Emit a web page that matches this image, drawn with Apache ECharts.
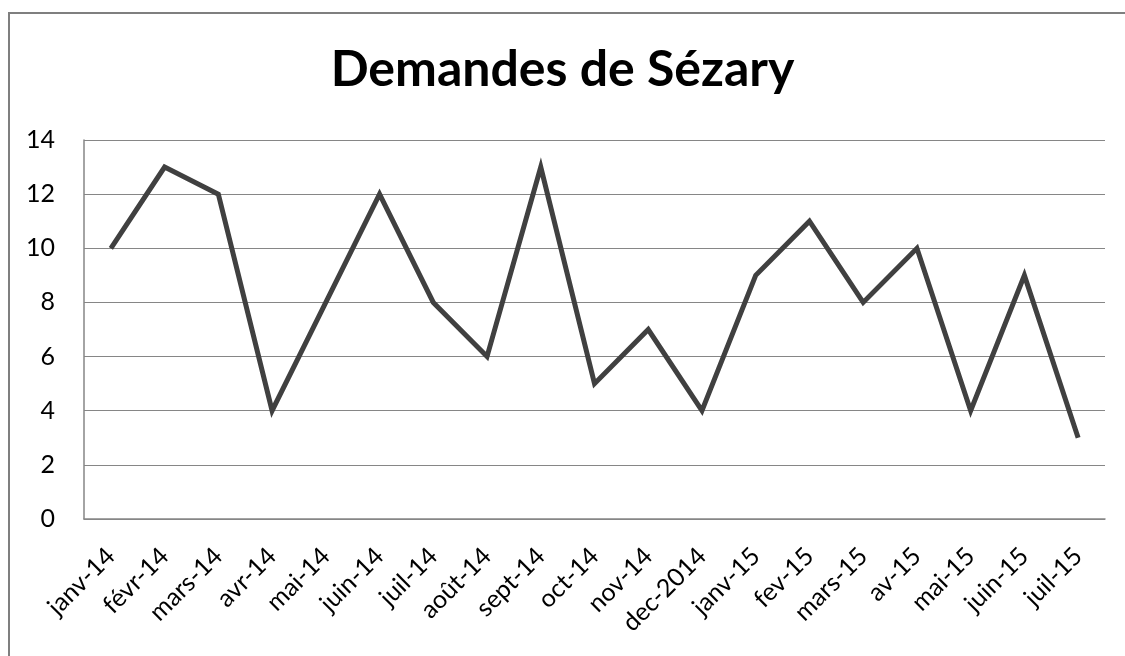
<!DOCTYPE html>
<html>
<head>
<meta charset="utf-8">
<script src="https://cdn.jsdelivr.net/npm/echarts@6/dist/echarts.min.js"></script>
<style>html,body{margin:0;padding:0;background:#fff;}#c{width:1125px;height:656px;}</style>
</head>
<body>
<div id="c"></div>
<script>
const titleText = 'Demandes de Sézary';
const categories = ['janv-14','févr-14','mars-14','avr-14','mai-14','juin-14','juil-14','août-14','sept-14','oct-14','nov-14','dec-2014','janv-15','fev-15','mars-15','av-15','mai-15','juin-15','juil-15'];
const demandes = [10,13,12,4,8,12,8,6,13,5,7,4,9,11,8,10,4,9,3];
const yTicks = [0,2,4,6,8,10,12,14];

const chart = echarts.init(document.getElementById('c'), null, {renderer:'canvas'});
chart.setOption({
  animation: false,
  backgroundColor: '#fff',
  title: {
    text: titleText, left: 'center', top: 40,
    textStyle: {fontFamily: 'Lato', fontWeight: 'bold', fontSize: 50, color: '#000'}
  },
  graphic: [{
    type: 'polyline', silent: true,
    shape: {points: [[9, 700], [9, 13], [1200, 13]]},
    style: {stroke: '#7f7f7f', lineWidth: 2, fill: null}
  }],
  grid: {left: 84, right: 20, top: 140, bottom: 137, containLabel: false},
  xAxis: {
    type: 'category', data: categories, boundaryGap: true,
    axisLine: {show: true, lineStyle: {color: '#868686', width: 1.5}},
    axisTick: {show: false},
    axisLabel: {rotate: 45, margin: 33, interval: 0, fontFamily: 'Lato', fontSize: 25, color: '#000'}
  },
  yAxis: {
    type: 'value', min: yTicks[0], max: yTicks[yTicks.length-1], interval: 2,
    axisLine: {show: true, lineStyle: {color: '#868686', width: 1.5}},
    axisTick: {show: false},
    splitLine: {show: true, lineStyle: {color: '#868686', width: 1.2}},
    axisLabel: {margin: 29, fontFamily: 'Lato', fontSize: 25, color: '#000'}
  },
  series: [{
    type: 'line', data: demandes, showSymbol: false, symbol: 'none',
    lineStyle: {color: '#404040', width: 5, join: 'miter'}
  }]
});
</script>
</body>
</html>
